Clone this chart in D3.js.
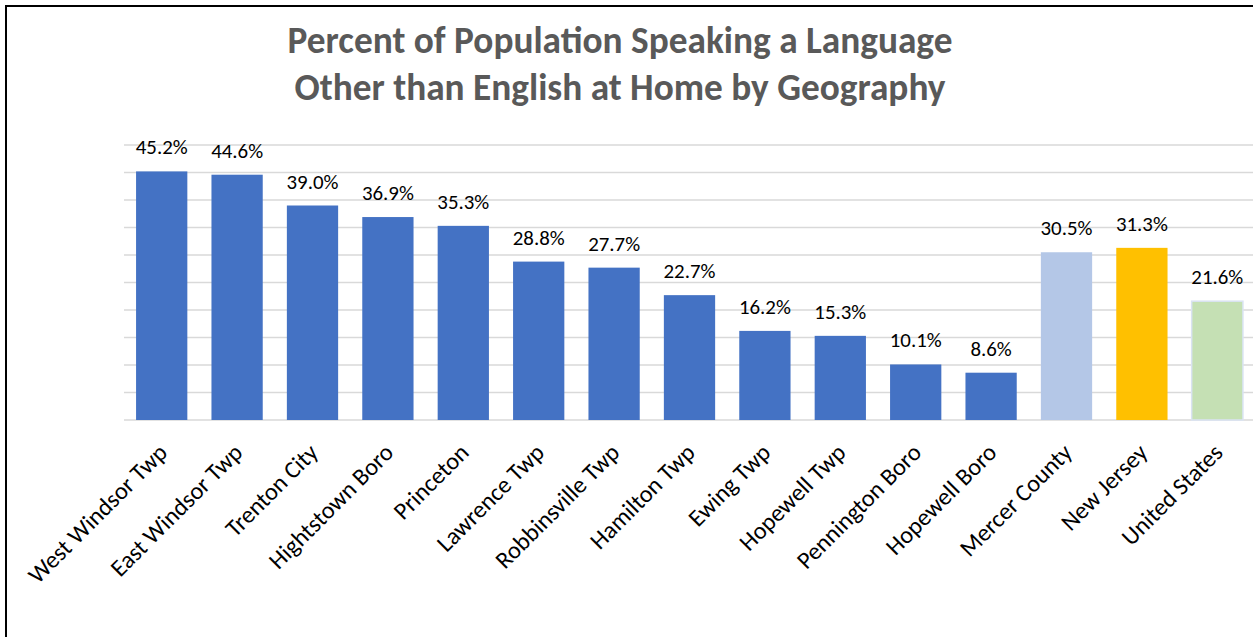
<!DOCTYPE html>
<html>
<head>
<meta charset="utf-8">
<script src="https://cdn.jsdelivr.net/npm/d3@7"></script>
<style>
  html, body { margin: 0; padding: 0; background: #fff; }
  svg { display: block; }
  text { font-family: Calibri, Carlito, Lato, "Open Sans", sans-serif; }
</style>
</head>
<body>
<svg id="chart" width="1253" height="637"></svg>
<script>
// Geographies shown on the x axis
const categories = [
  "West Windsor Twp", "East Windsor Twp", "Trenton City", "Hightstown Boro",
  "Princeton", "Lawrence Twp", "Robbinsville Twp", "Hamilton Twp",
  "Ewing Twp", "Hopewell Twp", "Pennington Boro", "Hopewell Boro",
  "Mercer County", "New Jersey", "United States"
];
// Percent speaking a language other than English at home
const values = [45.2, 44.6, 39.0, 36.9, 35.3, 28.8, 27.7, 22.7, 16.2, 15.3, 10.1, 8.6, 30.5, 31.3, 21.6];
// Bar fill per geography level
const fills = [
  "#4472C4", "#4472C4", "#4472C4", "#4472C4", "#4472C4", "#4472C4",
  "#4472C4", "#4472C4", "#4472C4", "#4472C4", "#4472C4", "#4472C4",
  "#B4C7E7", "#FFC000", "#C5E0B4"
];
const gridTicks = [0, 5, 10, 15, 20, 25, 30, 35, 40, 45, 50];
const titleLines = [
  "Percent of Population Speaking a Language",
  "Other than English at Home by Geography"
];

const svg = d3.select("#chart");

// pick a font size so that a sample string renders at the wanted width
function fitSize(sample, width, weight) {
  const probe = svg.append("text")
    .attr("font-size", 20)
    .attr("font-weight", weight || "normal")
    .text(sample);
  const w = probe.node().getComputedTextLength();
  probe.remove();
  return 20 * width / w;
}

// outer frame
svg.append("rect")
  .attr("x", 6).attr("y", 6)
  .attr("width", 1400).attr("height", 800)
  .attr("fill", "none").attr("stroke", "#000").attr("stroke-width", 2);

const x = d3.scaleBand()
  .domain(categories)
  .range([124, 1255])
  .paddingInner(0.32)
  .paddingOuter(0.16);

const y = d3.scaleLinear().domain([0, 50]).range([420, 145]);

// horizontal gridlines
svg.append("g")
  .selectAll("line")
  .data(gridTicks)
  .join("line")
  .attr("x1", 124).attr("x2", 1253)
  .attr("y1", d => y(d)).attr("y2", d => y(d))
  .attr("stroke", "#D9D9D9").attr("stroke-width", 1.5);

// bars
svg.append("g")
  .selectAll("rect")
  .data(values)
  .join("rect")
  .attr("x", (d, i) => x(categories[i]))
  .attr("y", d => y(d))
  .attr("width", x.bandwidth())
  .attr("height", d => y(0) - y(d))
  .attr("fill", (d, i) => fills[i])
  .attr("stroke", (d, i) => i === values.length - 1 ? "#DAE3F3" : "none")
  .attr("stroke-width", 1.5);

// value labels
const labelSize = fitSize("45.2%", 52);
svg.append("g")
  .selectAll("text")
  .data(values)
  .join("text")
  .attr("x", (d, i) => x(categories[i]) + x.bandwidth() / 2)
  .attr("y", d => y(d) - 17)
  .attr("text-anchor", "middle")
  .attr("font-size", labelSize)
  .attr("fill", "#000")
  .text(d => d.toFixed(1) + "%");

// rotated category labels
const catSize = fitSize("West Windsor Twp", 185);
const xAxis = d3.axisBottom(x).tickSize(0).tickPadding(0);
const gx = svg.append("g").attr("transform", "translate(0,420)").call(xAxis);
gx.select(".domain").remove();
gx.selectAll(".tick text")
  .attr("font-size", catSize)
  .attr("fill", "#000")
  .attr("text-anchor", "end")
  .attr("dy", null)
  .attr("y", 0)
  .attr("transform", "translate(7,34) rotate(-45)");

// title
const titleSize = fitSize(titleLines[0], 665, "bold");
svg.append("g")
  .selectAll("text")
  .data(titleLines)
  .join("text")
  .attr("x", 620)
  .attr("y", (d, i) => 53 + i * 47)
  .attr("text-anchor", "middle")
  .attr("font-weight", "bold")
  .attr("fill", "#595959")
  .attr("font-size", titleSize)
  .text(d => d);
</script>
</body>
</html>
